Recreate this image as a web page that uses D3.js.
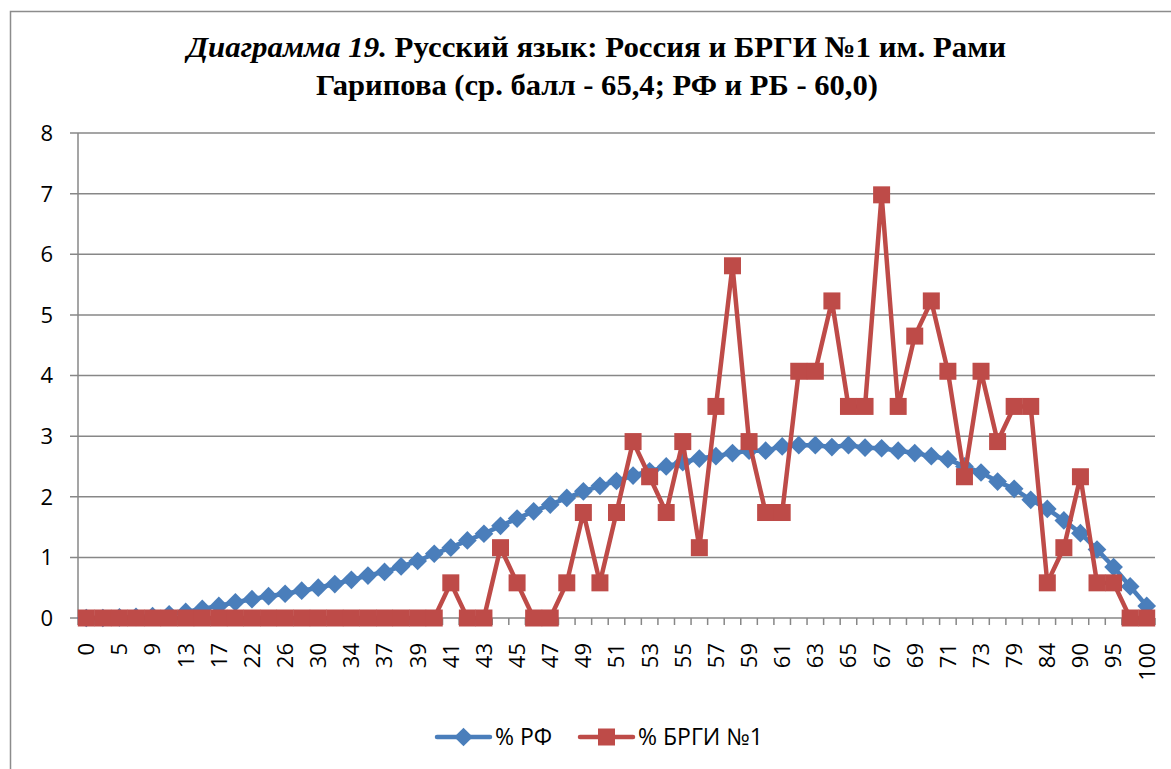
<!DOCTYPE html>
<html>
<head>
<meta charset="utf-8">
<script src="https://cdn.jsdelivr.net/npm/d3@7"></script>
<style>
  body { margin: 0; background: #fff; }
  text { font-family: "Open Sans", sans-serif; }
  text.title { font-family: "Liberation Serif", serif; font-weight: bold; font-size: 30px; }
</style>
</head>
<body>
<svg id="chart"></svg>
<script>
// ===================== data =====================
const scores = [0, 3, 5, 7, 9, 11, 13, 15, 17, 20, 22, 24, 26, 28, 30, 32, 34, 36,
  37, 38, 39, 40, 41, 42, 43, 44, 45, 46, 47, 48, 49, 50, 51, 52, 53, 54, 55, 56, 57, 58,
  59, 60, 61, 62, 63, 64, 65, 66, 67, 68, 69, 70, 71, 72, 73,
  76, 79, 81, 84, 87, 90, 92, 95, 98, 100];

// % РФ
const rfValues = [0, 0, 0.01, 0.02, 0.03, 0.06, 0.1, 0.15, 0.2, 0.26, 0.31, 0.36, 0.4, 0.45,
  0.5, 0.56, 0.63, 0.7, 0.76, 0.85, 0.94, 1.06, 1.16, 1.28, 1.39, 1.52, 1.64, 1.76, 1.87,
  1.98, 2.09, 2.18, 2.26, 2.35, 2.42, 2.5, 2.57, 2.63, 2.67, 2.72, 2.76, 2.76, 2.83, 2.85,
  2.85, 2.82, 2.85, 2.81, 2.8, 2.76, 2.72, 2.67, 2.62, 2.5, 2.4, 2.25, 2.13, 1.95, 1.8,
  1.61, 1.4, 1.13, 0.84, 0.52, 0.2];

// % БРГИ №1
const brgiValues = [0, 0, 0, 0, 0, 0, 0, 0, 0, 0, 0, 0, 0, 0, 0, 0, 0, 0, 0, 0, 0, 0,
  0.58, 0, 0, 1.16, 0.58, 0, 0, 0.58, 1.74, 0.58, 1.74, 2.91, 2.33, 1.74, 2.91, 1.16,
  3.49, 5.81, 2.91, 1.74, 1.74, 4.07, 4.07, 5.23, 3.49, 3.49, 6.98, 3.49, 4.65, 5.23,
  4.07, 2.33, 4.07, 2.91, 3.49, 3.49, 0.58, 1.16, 2.33, 0.58, 0.58, 0, 0];

const yTicks = [0, 1, 2, 3, 4, 5, 6, 7, 8];
const seriesNames = ['% РФ', '% БРГИ №1'];

// ===================== layout =====================
const
  W = 1171, H = 769,
  plotLeft = 78, plotRight = 1155,    // plot area
  plotTop = 133, plotBottom = 618,
  blue = '#4A7EBB',
  red = '#BE4B48',
  grid = '#878787';

const svg = d3.select('#chart').attr('width', W).attr('height', H);

// outer frame (cut off at right / bottom like the source)
svg.append('rect')
  .attr('x', 10.5).attr('y', 11.5)
  .attr('width', W + 20).attr('height', H + 20)
  .attr('fill', 'none').attr('stroke', '#8c8c8c').attr('stroke-width', 1.5);

// title
const t1 = svg.append('text')
  .attr('class', 'title')
  .attr('x', 187).attr('y', 57)
  .attr('textLength', 819).attr('lengthAdjust', 'spacingAndGlyphs');
t1.append('tspan').style('font-style', 'italic').text('Диаграмма 19.');
t1.append('tspan').text('  Русский язык: Россия и БРГИ №1 им. Рами');

svg.append('text')
  .attr('class', 'title')
  .attr('x', 316).attr('y', 95)
  .attr('textLength', 562).attr('lengthAdjust', 'spacingAndGlyphs')
  .text('Гарипова (ср. балл - 65,4; РФ и РБ - 60,0)');

// ===================== scales =====================
const idx = d3.range(scores.length);
const x = d3.scaleBand(idx, [plotLeft, plotRight]);
const cx = i => x(i) + x.bandwidth() / 2;
const y = d3.scaleLinear([0, 8], [plotBottom, plotTop]);

// gridlines
svg.append('g')
  .selectAll('line')
  .data(yTicks)
  .enter()
  .append('line')
  .attr('x1', plotLeft - 8).attr('x2', plotRight)
  .attr('y1', d => y(d)).attr('y2', d => y(d))
  .attr('stroke', grid).attr('stroke-width', 1.5);

// y axis
svg.append('line')
  .attr('x1', plotLeft).attr('x2', plotLeft)
  .attr('y1', plotTop).attr('y2', plotBottom)
  .attr('stroke', grid).attr('stroke-width', 1.5);

svg.append('g')
  .selectAll('text')
  .data(yTicks)
  .enter()
  .append('text')
  .attr('x', 53).attr('y', d => y(d))
  .attr('dy', '0.36em')
  .attr('text-anchor', 'end')
  .style('font-size', '22px')
  .text(d => d);

// x axis ticks (category boundaries)
svg.append('g')
  .selectAll('line')
  .data(d3.range(scores.length + 1))
  .enter()
  .append('line')
  .attr('x1', i => plotLeft + i * x.bandwidth())
  .attr('x2', i => plotLeft + i * x.bandwidth())
  .attr('y1', plotBottom).attr('y2', plotBottom + 7)
  .attr('stroke', grid).attr('stroke-width', 1.5);

// x labels, every second category
svg.append('g')
  .selectAll('text')
  .data(idx.filter(i => i % 2 == 0))
  .enter()
  .append('text')
  .attr('transform', i => 'translate(' + cx(i) + ',' + 643 + ') rotate(-90)')
  .attr('dy', '0.36em')
  .attr('text-anchor', 'end')
  .style('font-size', '22px')
  .text(i => scores[i]);

// ===================== series =====================
const line = d3.line().x((d, i) => cx(i)).y(d => y(d));

const diamond = d3.symbol(d3.symbolSquare, 175);

// % РФ
svg.append('path')
  .datum(rfValues)
  .attr('d', line)
  .attr('fill', 'none').attr('stroke', blue).attr('stroke-width', 4.5)
  .attr('stroke-linejoin', 'round');

svg.append('g')
  .selectAll('path')
  .data(rfValues)
  .enter()
  .append('path')
  .attr('d', diamond)
  .attr('transform', (d, i) => 'translate(' + cx(i) + ',' + y(d) + ') rotate(45)')
  .attr('fill', blue);

// % БРГИ №1
svg.append('path')
  .datum(brgiValues)
  .attr('d', line)
  .attr('fill', 'none').attr('stroke', red).attr('stroke-width', 4.5)
  .attr('stroke-linejoin', 'round');

const sq = 17;
svg.append('g')
  .selectAll('rect')
  .data(brgiValues)
  .enter()
  .append('rect')
  .attr('x', (d, i) => cx(i) - sq / 2)
  .attr('y', d => y(d) - sq / 2)
  .attr('width', sq).attr('height', sq)
  .attr('fill', red);

// ===================== legend =====================
const legend = svg.append('g');
const legendItems = [
  { name: seriesNames[0], color: blue, x: 437, shape: 'diamond' },
  { name: seriesNames[1], color: red, x: 580, shape: 'square' }
];
const ly = 737;

legendItems.forEach(item => {
  legend.append('line')
    .attr('x1', item.x).attr('x2', item.x + 53)
    .attr('y1', ly).attr('y2', ly)
    .attr('stroke', item.color).attr('stroke-width', 4.5)
    .attr('stroke-linecap', 'round');
  if (item.shape == 'diamond') {
    legend.append('path')
      .attr('d', diamond)
      .attr('transform', 'translate(' + (item.x + 26.5) + ',' + ly + ') rotate(45)')
      .attr('fill', item.color);
  } else {
    legend.append('rect')
      .attr('x', item.x + 26.5 - sq / 2).attr('y', ly - sq / 2)
      .attr('width', sq).attr('height', sq)
      .attr('fill', item.color);
  }
  legend.append('text')
    .attr('x', item.x + 58).attr('y', ly)
    .attr('dy', '0.36em')
    .style('font-size', '23px')
    .text(item.name);
});
</script>
</body>
</html>
